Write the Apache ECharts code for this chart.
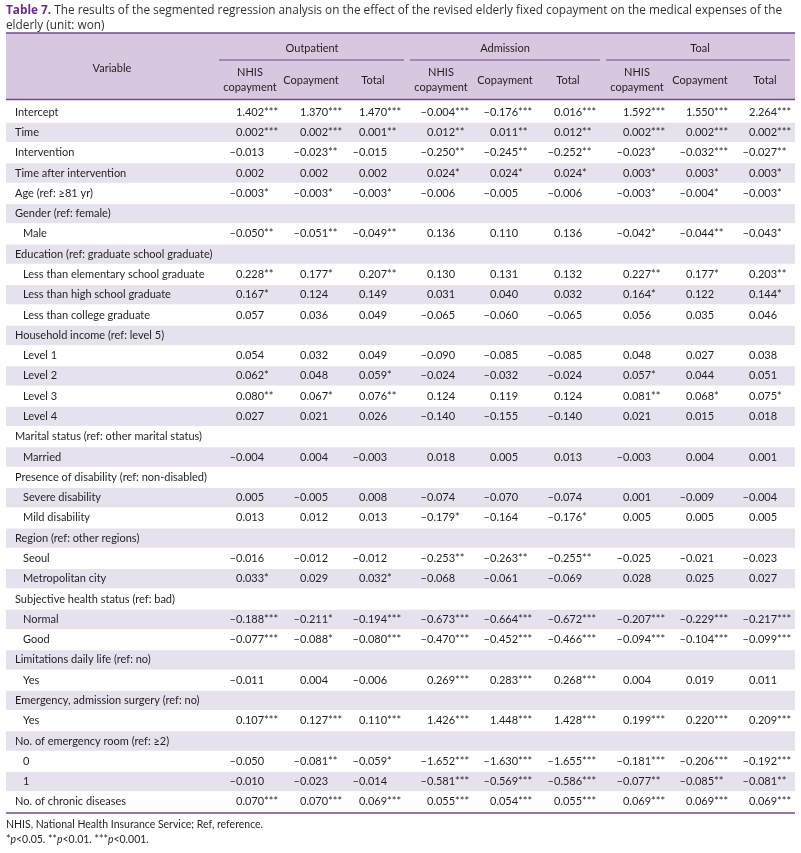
<!DOCTYPE html>
<html>
<head>
<meta charset="utf-8">
<script src="https://cdn.jsdelivr.net/npm/echarts@6/dist/echarts.min.js"></script>
<style>
html,body{margin:0;padding:0;background:#fff;}
#c{width:801px;height:853px;}
</style>
</head>
<body>
<div id="c"></div>
<script>
// ---------- data ----------
const rowLabels = [
  'Intercept','Time','Intervention','Time after intervention','Age (ref: ≥81 yr)',
  'Gender (ref: female)','Male',
  'Education (ref: graduate school graduate)','Less than elementary school graduate','Less than high school graduate','Less than college graduate',
  'Household income (ref: level 5)','Level 1','Level 2','Level 3','Level 4',
  'Marital status (ref: other marital status)','Married',
  'Presence of disability (ref: non-disabled)','Severe disability','Mild disability',
  'Region (ref: other regions)','Seoul','Metropolitan city',
  'Subjective health status (ref: bad)','Normal','Good',
  'Limitations daily life (ref: no)','Yes',
  'Emergency, admission surgery (ref: no)','Yes',
  'No. of emergency room (ref: ≥2)','0','1',
  'No. of chronic diseases'
];
const indentRows = [6,8,9,10,12,13,14,15,17,19,20,22,23,25,26,28,30,32,33];

const groupLabels = ['Outpatient','Admission','Toal'];
const subLabels = ['NHIS\ncopayment','Copayment','Total'];

const outNhis  = ['1.402***','0.002***','–0.013','0.002','–0.003*','','–0.050**','','0.228**','0.167*','0.057','','0.054','0.062*','0.080**','0.027','','–0.004','','0.005','0.013','','–0.016','0.033*','','–0.188***','–0.077***','','–0.011','','0.107***','','–0.050','–0.010','0.070***'];
const outCopay = ['1.370***','0.002***','–0.023**','0.002','–0.003*','','–0.051**','','0.177*','0.124','0.036','','0.032','0.048','0.067*','0.021','','0.004','','–0.005','0.012','','–0.012','0.029','','–0.211*','–0.088*','','0.004','','0.127***','','–0.081**','–0.023','0.070***'];
const outTotal = ['1.470***','0.001**','–0.015','0.002','–0.003*','','–0.049**','','0.207**','0.149','0.049','','0.049','0.059*','0.076**','0.026','','–0.003','','0.008','0.013','','–0.012','0.032*','','–0.194***','–0.080***','','–0.006','','0.110***','','–0.059*','–0.014','0.069***'];
const admNhis  = ['–0.004***','0.012**','–0.250**','0.024*','–0.006','','0.136','','0.130','0.031','–0.065','','–0.090','–0.024','0.124','–0.140','','0.018','','–0.074','–0.179*','','–0.253**','–0.068','','–0.673***','–0.470***','','0.269***','','1.426***','','–1.652***','–0.581***','0.055***'];
const admCopay = ['–0.176***','0.011**','–0.245**','0.024*','–0.005','','0.110','','0.131','0.040','–0.060','','–0.085','–0.032','0.119','–0.155','','0.005','','–0.070','–0.164','','–0.263**','–0.061','','–0.664***','–0.452***','','0.283***','','1.448***','','–1.630***','–0.569***','0.054***'];
const admTotal = ['0.016***','0.012**','–0.252**','0.024*','–0.006','','0.136','','0.132','0.032','–0.065','','–0.085','–0.024','0.124','–0.140','','0.013','','–0.074','–0.176*','','–0.255**','–0.069','','–0.672***','–0.466***','','0.268***','','1.428***','','–1.655***','–0.586***','0.055***'];
const totNhis  = ['1.592***','0.002***','–0.023*','0.003*','–0.003*','','–0.042*','','0.227**','0.164*','0.056','','0.048','0.057*','0.081**','0.021','','–0.003','','0.001','0.005','','–0.025','0.028','','–0.207***','–0.094***','','0.004','','0.199***','','–0.181***','–0.077**','0.069***'];
const totCopay = ['1.550***','0.002***','–0.032***','0.003*','–0.004*','','–0.044**','','0.177*','0.122','0.035','','0.027','0.044','0.068*','0.015','','0.004','','–0.009','0.005','','–0.021','0.025','','–0.229***','–0.104***','','0.019','','0.220***','','–0.206***','–0.085**','0.069***'];
const totTotal = ['2.264***','0.002***','–0.027**','0.003*','–0.003*','','–0.043*','','0.203**','0.144*','0.046','','0.038','0.051','0.075*','0.018','','0.001','','–0.004','0.005','','–0.023','0.027','','–0.217***','–0.099***','','0.011','','0.209***','','–0.192***','–0.081**','0.069***'];

const valueColumns = [outNhis,outCopay,outTotal,admNhis,admCopay,admTotal,totNhis,totCopay,totTotal];

// ---------- layout ----------
const colDigitX = [236,300,359,427,490,554,623,686,749];
const subCenterX = [250,311,373,441,505,568,637,700,765];
const groupCenterX = [312,505,700];
const groupLine = [[219,404],[410,600],[606,790]];
const TL = 6, TR = 795;
const FONT = 'Lato';
const TXT = '#231f20';
const PURPLE = '#6f4a88';
const SHADE = '#e7e1ee';
const HEAD = '#d7c8df';

const cellData = [];
rowLabels.forEach((lab, r) => {
  cellData.push([-1, r, lab]);
  valueColumns.forEach((col, c) => { if (col[r]) cellData.push([c, r, col[r]]); });
});
const bandData = rowLabels.map((_, r) => [0, r]);

const chart = echarts.init(document.getElementById('c'), null, {renderer: 'canvas'});

const graphics = [];
// title
graphics.push({type:'text', left: TL, top: 3, style:{
  text: '{b|Table 7.} The results of the segmented regression analysis on the effect of the revised elderly fixed copayment on the medical expenses of the\nelderly (unit: won)',
  font: '11.8px "Open Sans"', fill: '#333', lineHeight: 15,
  rich: { b: { font: 'bold 11.8px "Open Sans"', fill: '#6a2c86' } }
}});
// header background
graphics.push({type:'rect', shape:{x:TL, y:33, width:TR-TL, height:66}, style:{fill:HEAD}, z:0});
graphics.push({type:'line', shape:{x1:TL, y1:33, x2:TR, y2:33}, style:{stroke:PURPLE, lineWidth:1.5}, z:2});
graphics.push({type:'line', shape:{x1:TL, y1:99.5, x2:TR, y2:99.5}, style:{stroke:PURPLE, lineWidth:1.5}, z:2});
graphics.push({type:'line', shape:{x1:TL, y1:813, x2:TR, y2:813}, style:{stroke:PURPLE, lineWidth:1.5}, z:2});
groupLine.forEach(g => graphics.push({type:'line', shape:{x1:g[0], y1:60, x2:g[1], y2:60}, style:{stroke:PURPLE, lineWidth:1.2}, z:2}));
graphics.push({type:'text', x:112, y:68, style:{text:'Variable', font:'11px '+FONT, fill:TXT, align:'center', verticalAlign:'middle'}, z:3});
groupLabels.forEach((g, i) => graphics.push({type:'text', x:groupCenterX[i], y:48, style:{text:g, font:'11px '+FONT, fill:TXT, align:'center', verticalAlign:'middle'}, z:3}));
for (let i = 0; i < 9; i++) {
  const lab = subLabels[i % 3];
  graphics.push({type:'text', x:subCenterX[i], y:80, style:{text:lab, font:'11px '+FONT, fill:TXT, align:'center', verticalAlign:'middle', lineHeight:15}, z:3});
}
// footnotes
graphics.push({type:'text', left: TL, top: 817, style:{
  text:'NHIS, National Health Insurance Service; Ref, reference.\n*{i|p}<0.05. **{i|p}<0.01. ***{i|p}<0.001.',
  font:'10.5px '+FONT, fill:TXT, lineHeight:15,
  rich:{ i:{ font:'italic 10.5px '+FONT, fill:TXT } }
}});

chart.setOption({
  animation: false,
  grid: { left: 0, right: 0, top: 102, height: 710, containLabel: false },
  xAxis: { type: 'value', min: 0, max: 801, show: false },
  yAxis: { type: 'category', data: rowLabels.map((_, i) => String(i)), inverse: true, show: false, boundaryGap: true },
  graphic: graphics,
  series: [
    {
      type: 'custom', data: bandData, z: 1, silent: true,
      renderItem: (params, api) => {
        const r = api.value(1);
        if (r % 2 === 0) return null;
        const p0 = api.coord([TL, r]);
        const p1 = api.coord([TR, r]);
        const h = api.size([0, 1])[1];
        return { type: 'rect', shape: { x: p0[0], y: p0[1] - h/2 + 0.5, width: p1[0] - p0[0], height: h - 1 }, style: { fill: SHADE } };
      }
    },
    {
      type: 'custom', data: cellData, z: 3, silent: true,
      renderItem: (params, api) => {
        const c = api.value(0), r = api.value(1);
        const txt = cellData[params.dataIndex][2];
        if (c < 0) {
          const x0 = indentRows.includes(r) ? 23 : 15;
          const p = api.coord([x0, r]);
          return { type: 'text', style: { text: txt, x: p[0], y: p[1], font: '11px ' + FONT, fill: TXT, align: 'left', verticalAlign: 'middle' } };
        }
        const p = api.coord([colDigitX[c], r]);
        const neg = txt.charAt(0) === '–';
        const rest = neg ? txt.slice(1) : txt;
        const children = [{ type: 'text', style: { text: rest, x: p[0], y: p[1], font: '11px ' + FONT, fill: TXT, align: 'left', verticalAlign: 'middle' } }];
        if (neg) children.push({ type: 'text', style: { text: '–', x: p[0], y: p[1], font: '11px ' + FONT, fill: TXT, align: 'right', verticalAlign: 'middle' } });
        return { type: 'group', children };
      }
    }
  ]
});
</script>
</body>
</html>
